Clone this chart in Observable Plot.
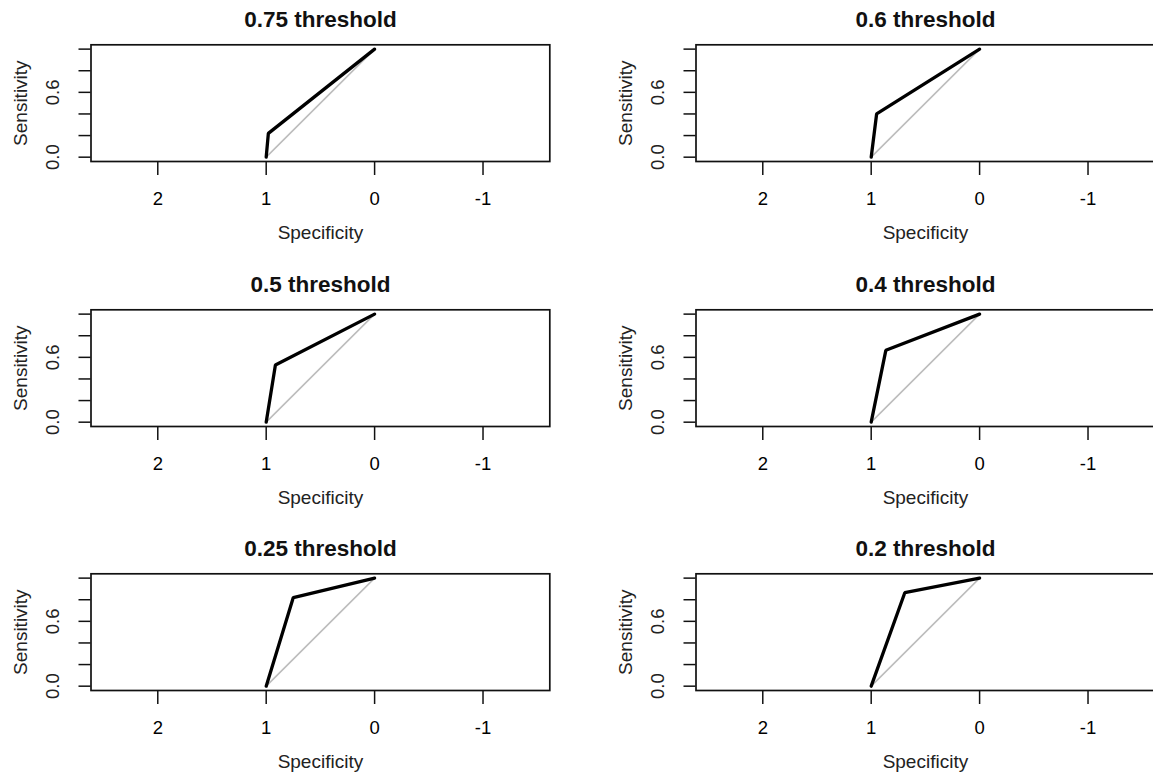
<!DOCTYPE html>
<html><head><meta charset="utf-8">
<script src="https://cdn.jsdelivr.net/npm/d3@7"></script>
<script src="https://cdn.jsdelivr.net/npm/@observablehq/plot@0.6"></script>
<style>
html,body{margin:0;padding:0;background:#fff;overflow:hidden;width:1153px;height:773px}
#wrap{position:relative;width:1153px;height:773px;overflow:hidden}
.panel{position:absolute}
</style></head><body><div id="wrap"></div>
<script>
// Panel titles (threshold used)
const thresholds = ["0.75 threshold", "0.6 threshold", "0.5 threshold", "0.4 threshold", "0.25 threshold", "0.2 threshold"];
// Operating point of each threshold
const specificity = [0.98, 0.95, 0.915, 0.865, 0.75, 0.69];
const sensitivity = [0.22, 0.40, 0.53, 0.665, 0.82, 0.865];
// End points of the ROC curve and of the chance diagonal
const startSpec = 1, startSens = 0;
const endSpec = 0, endSens = 1;
// Axis ticks
const xTicks = [2, 1, 0, -1];
const yTicks = [0, 0.2, 0.4, 0.6, 0.8, 1.0];
const yTickLabels = [0, 0.6];
const xDomain = [2.616, -1.616];
const yDomain = [-0.04, 1.04];

const W = 605, H = 264;
const wrap = document.getElementById("wrap");
const font = "'Liberation Sans', Arial, Helvetica, sans-serif";

thresholds.forEach((title, i) => {
  const col = i % 2, row = Math.floor(i / 2);
  const roc = [
    {spec: startSpec, sens: startSens},
    {spec: specificity[i], sens: sensitivity[i]},
    {spec: endSpec, sens: endSens}
  ];
  const diag = [
    {spec: startSpec, sens: startSens},
    {spec: endSpec, sens: endSens}
  ];
  const chart = Plot.plot({
    width: W, height: H,
    marginLeft: 90.5, marginRight: 55.7, marginTop: 44.3, marginBottom: 103,
    style: {fontFamily: font, fontSize: "19px", background: "transparent", color: "#000", overflow: "visible"},
    x: {domain: xDomain},
    y: {domain: yDomain},
    marks: [
      Plot.line(diag, {x: "spec", y: "sens", stroke: "#bdbdbd", strokeWidth: 1.6}),
      Plot.line(roc, {x: "spec", y: "sens", stroke: "#000", strokeWidth: 3.3, strokeLinejoin: "miter"}),
      Plot.frame({stroke: "#111", strokeWidth: 1.7}),
      Plot.axisX({ticks: xTicks, tickSize: 14, tickPadding: 16, tickFormat: d => String(d), label: null, fontSize: 18.5, stroke: "#111", strokeWidth: 1.5}),
      Plot.axisY({ticks: yTicks, tickSize: 12, tickFormat: () => "", label: null, stroke: "#111", strokeWidth: 1.5}),
      Plot.text(yTickLabels, {y: d => d, text: d => d.toFixed(1), frameAnchor: "left", dx: -37.5, rotate: -90, textAnchor: "middle", lineAnchor: "middle", fontSize: 18.5, fill: "#222"}),
      Plot.text(["Sensitivity"], {text: d => d, frameAnchor: "left", dx: -70.5, rotate: -90, textAnchor: "middle", lineAnchor: "middle", fontSize: 19, fill: "#222"}),
      Plot.text(["Specificity"], {text: d => d, frameAnchor: "bottom", dy: 71, textAnchor: "middle", lineAnchor: "middle", fontSize: 19, fill: "#222"}),
      Plot.text([title], {text: d => d, frameAnchor: "top", dy: -25.5, textAnchor: "middle", lineAnchor: "middle", fontSize: 22.5, fontWeight: "bold", fill: "#111"})
    ]
  });
  chart.classList.add("panel");
  chart.style.left = (col * 605) + "px";
  chart.style.top = (row * 264.5) + "px";
  wrap.appendChild(chart);
});
</script>
</body></html>
